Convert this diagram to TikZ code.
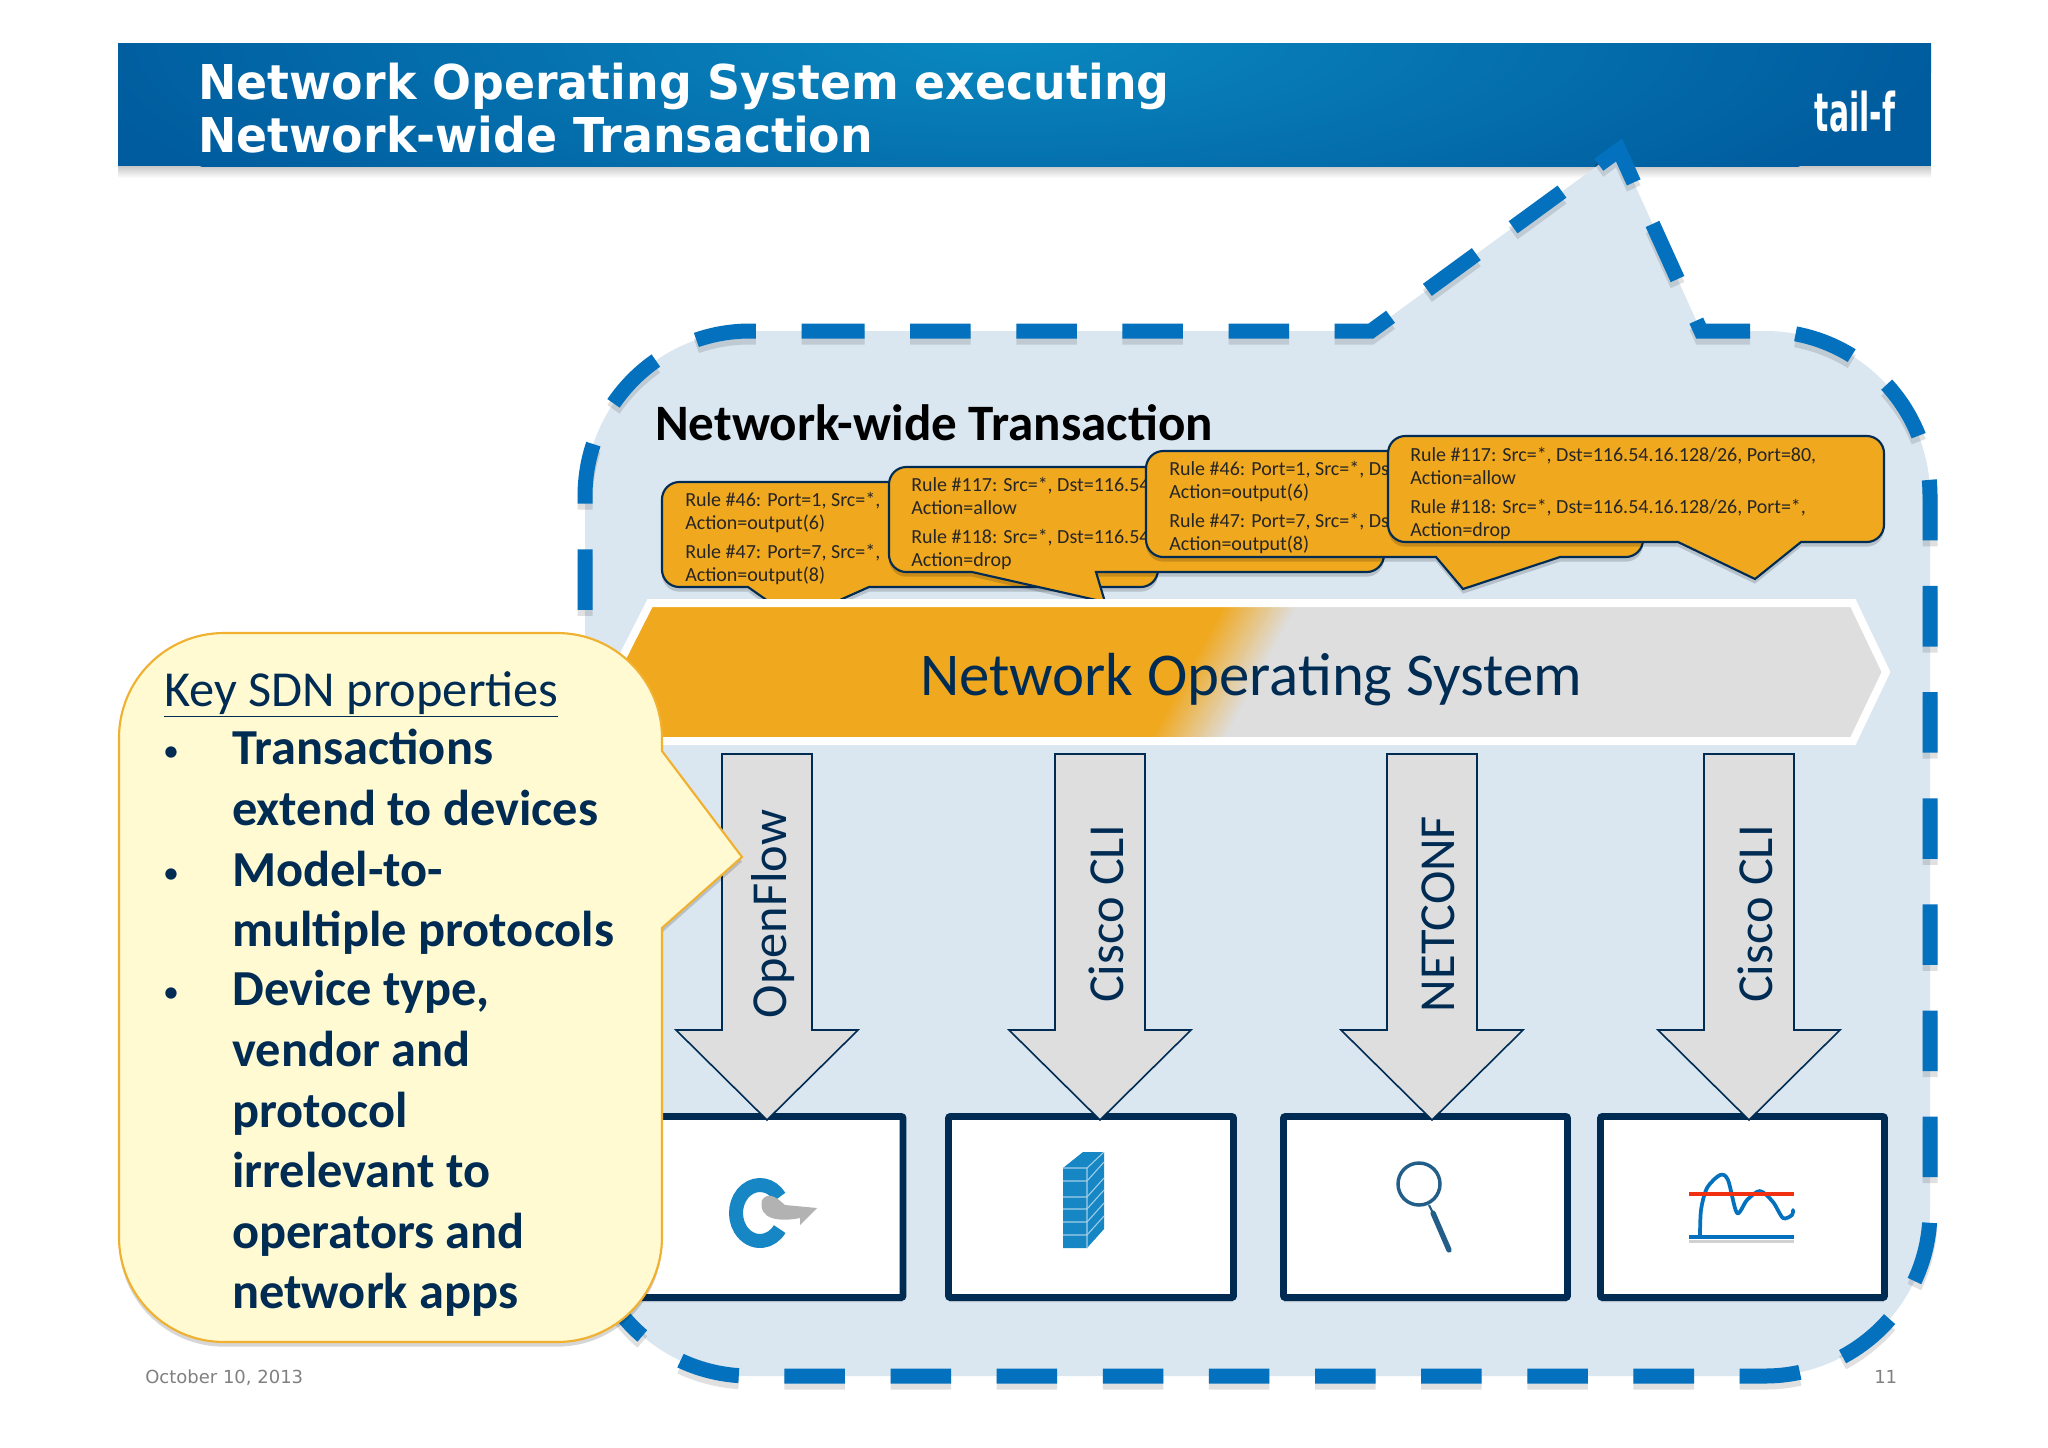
\documentclass[tikz,border=0pt]{standalone}
\usepackage{fontspec}
\setmainfont{Carlito}
\newfontfamily\titlefont{DejaVu Sans}
\definecolor{navy}{RGB}{0,44,84}
\definecolor{bannerdark}{RGB}{0,92,158}
\definecolor{bannerlight}{RGB}{10,136,192}
\definecolor{bubblefill}{RGB}{218,230,240}
\definecolor{bubbledash}{RGB}{4,113,190}
\definecolor{ruleorange}{RGB}{240,168,30}
\definecolor{bandgray}{RGB}{222,222,222}
\definecolor{keyfill}{RGB}{255,250,210}
\definecolor{keyedge}{RGB}{240,176,48}
\definecolor{iconblue}{RGB}{22,134,196}
\definecolor{glassblue}{RGB}{35,94,136}
\definecolor{chartred}{RGB}{240,48,16}
\tikzset{
  softshadow/.style={preaction={fill=black,fill opacity=0.16,draw=none,transform canvas={yshift=-3.5pt}}},
  rulebox/.style={draw=navy,line width=1.6pt,fill=ruleorange,softshadow},
  ruletext/.style={anchor=north west,inner sep=0pt,align=left,text=black!85,font=\fontsize{15}{17.6}\selectfont},
  protobox/.style={draw=navy,line width=5.2pt,fill=white,rounded corners=1.5pt,softshadow},
  protolabel/.style={rotate=90,text=navy,font=\fontsize{37.8}{42}\selectfont},
  keyline/.style={anchor=base west,inner sep=0pt,text=navy,font=\fontsize{37.8}{42}\selectfont\bfseries},
  titleline/.style={anchor=base west,inner sep=0pt,text=white,xscale=0.955,font=\titlefont\fontsize{36}{40}\selectfont\bfseries},
  footline/.style={anchor=base west,inner sep=0pt,text=black!50,font=\titlefont\fontsize{13.5}{16}\selectfont},
}
\begin{document}
\begin{tikzpicture}[x=0.75pt,y=0.75pt,yscale=-1,xscale=1]
        \useasboundingbox (0,0) rectangle (2048,1447);
        \fill[white] (0,0) rectangle (2048,1447);
        % Banner
        \shade[top color=black!22,bottom color=white] (118,166) rectangle (1931,178);
        \begin{scope}
        \clip (118,43) rectangle (1931,166);
        \fill[bannerdark] (118,43) rectangle (1931,166);
        \shade[inner color=bannerlight,outer color=bannerdark] (1000,40) ellipse (940 and 240);
        \end{scope}
        \node[titleline] (titlea) at (198,99) {Network Operating System executing};
        \node[titleline] (titleb) at (198,152) {Network-wide Transaction};
        \node[anchor=base,inner sep=0pt,text=white,xscale=0.56,font=\titlefont\fontsize{40}{44}\selectfont\bfseries] (logo) at (1855,131) {tail-f};
        %Shape: dashed bubble
        \fill[bubblefill] (804,331) -- (1371,331) -- (1619,150) -- (1701,331) -- (1765,331) .. controls (1856,331) and (1930,405) .. (1930,496) -- (1930,1211) .. controls (1930,1302) and (1856,1376) .. (1765,1376) -- (750,1376) .. controls (659,1376) and (585,1302) .. (585,1211) -- (585,496) .. controls (585,405) and (659,331) .. (750,331) -- cycle ;
        \draw[black,opacity=0.12,line width=11.25pt,dash pattern={on 45.4pt off 34.2pt},shift={(0,6)}] (804,331) -- (1371,331) -- (1619,150) -- (1701,331) -- (1765,331) .. controls (1856,331) and (1930,405) .. (1930,496) -- (1930,1211) .. controls (1930,1302) and (1856,1376) .. (1765,1376) -- (750,1376) .. controls (659,1376) and (585,1302) .. (585,1211) -- (585,496) .. controls (585,405) and (659,331) .. (750,331) -- cycle ;
        \draw[bubbledash,line width=11.25pt,dash pattern={on 45.4pt off 34.2pt}] (804,331) -- (1371,331) -- (1619,150) -- (1701,331) -- (1765,331) .. controls (1856,331) and (1930,405) .. (1930,496) -- (1930,1211) .. controls (1930,1302) and (1856,1376) .. (1765,1376) -- (750,1376) .. controls (659,1376) and (585,1302) .. (585,1211) -- (585,496) .. controls (585,405) and (659,331) .. (750,331) -- cycle ;
        % Text Node
        \node[anchor=base west,inner sep=0pt,text=black,font=\fontsize{38.3}{42}\selectfont\bfseries] (txnhead) at (655,440) {Network-wide Transaction};
        %Shape: rule callouts
        \draw[rulebox] [rounded corners=13pt] (662,482) -- (1158,482) -- (1158,587) [sharp corners] -- (869,587) -- (795,620) -- (748,587) [rounded corners=13pt] -- (662,587) -- cycle ;
        \node[ruletext] (rulea) at (685,492) {Rule \#46: Port=1, Src=*,\\Action=output(6)\\[3.5pt]Rule \#47: Port=7, Src=*,\\Action=output(8)};
        \draw[rulebox] [rounded corners=13pt] (889,467) -- (1384,467) -- (1384,572) [sharp corners] -- (1096,572) -- (1105,602) -- (972,572) [rounded corners=13pt] -- (889,572) -- cycle ;
        \node[ruletext] (ruleb) at (911,477) {Rule \#117: Src=*, Dst=116.54\\Action=allow\\[3.5pt]Rule \#118: Src=*, Dst=116.54\\Action=drop};
        \draw[rulebox] [rounded corners=13pt] (1146,451) -- (1643,451) -- (1643,557) [sharp corners] -- (1560,557) -- (1463,589) -- (1436,557) [rounded corners=13pt] -- (1146,557) -- cycle ;
        \node[ruletext] (rulec) at (1169,461) {Rule \#46: Port=1, Src=*, Ds\\Action=output(6)\\[3.5pt]Rule \#47: Port=7, Src=*, Ds\\Action=output(8)};
        \draw[rulebox] [rounded corners=13pt] (1388,436) -- (1884,436) -- (1884,542) [sharp corners] -- (1801,542) -- (1755,579) -- (1678,542) [rounded corners=13pt] -- (1388,542) -- cycle ;
        \node[ruletext] (ruled) at (1410,447) {Rule \#117: Src=*, Dst=116.54.16.128/26, Port=80,\\Action=allow\\[3.5pt]Rule \#118: Src=*, Dst=116.54.16.128/26, Port=*,\\Action=drop};
        %Shape: band
        \begin{scope}
        \clip (650,603) -- (1853,603) -- (1886,672) -- (1853,741) -- (650,741) -- (615,672) -- cycle ;
        \fill[ruleorange] (600,590) rectangle (1900,750);
        \foreach \i in {0,...,25} {
          \pgfmathtruncatemacro{\mixval}{100-4*\i}
          \fill[ruleorange!\mixval!bandgray] ({1223+3*\i},603) -- (1900,603) -- (1900,741) -- ({1148+3*\i},741) -- cycle ;
        }
        \end{scope}
        \draw[white,line width=6pt,line join=miter] (650,603) -- (1853,603) -- (1886,672) -- (1853,741) -- (650,741) -- (615,672) -- cycle ;
        \node[text=navy,inner sep=0pt,anchor=base,font=\fontsize{45.6}{50}\selectfont] (nos) at (1251,695) {Network Operating System};
        %Shape: device boxes
        \foreach \xa/\xb in {614/903,948.5/1233.5,1283.5/1567.5,1600.5/1884.5} {
          \draw[protobox] (\xa,1116.5) rectangle (\xb,1297.5);
        }
        %Shape: block arrows and labels
        \foreach \n/\cx/\lab in {a/767/OpenFlow,b/1100/Cisco CLI,c/1432/NETCONF,d/1749/Cisco CLI} {
          \draw[navy,line width=1.2pt,fill=bandgray] ({\cx-45},754) -- ({\cx+45},754) -- ({\cx+45},1030) -- ({\cx+91},1030) -- (\cx,1120) -- ({\cx-91},1030) -- ({\cx-45},1030) -- cycle ;
          \node[protolabel] (proto\n) at ({\cx+6},914) {\lab};
        }
        %Shape: icon ring
        \draw[iconblue,line width=10.5pt] ({760+24*cos(35)},{1213-28*sin(35)}) arc[start angle=-35,end angle=-325,x radius=24,y radius=28] ;
        \fill[black!30] (762,1200) .. controls (768,1192) and (775,1196) .. (785,1205) -- (817,1208) -- (800,1225) -- (800,1218) .. controls (780,1222) and (758,1220) .. (762,1200) -- cycle ;
        %Shape: icon wall
        \fill[iconblue] (1063,1168) -- (1083,1152) -- (1104,1152) -- (1104,1229) -- (1087,1248) -- (1063,1248) -- cycle ;
        \foreach \y in {1181,1197,1209,1222,1235} {
          \draw[white!60!iconblue,line width=0.8pt] (1063,\y) -- (1087,\y) -- (1104,{\y-19}) ;
        }
        \draw[white!60!iconblue,line width=0.8pt] (1063,1168) -- (1087,1168) -- (1104,1152) (1087,1168) -- (1087,1248) ;
        %Shape: icon glass
        \draw[glassblue,line width=2.6pt] (1419,1184) circle (21) ;
        \draw[glassblue,line width=1.6pt] (1429,1205) -- (1433,1213) ;
        \draw[glassblue,line width=4pt,line cap=round] (1433,1213) -- (1449,1250) ;
        %Shape: icon chart
        \fill[black,opacity=0.18] (1689,1240) rectangle (1794,1243);
        \draw[bubbledash,line width=3.6pt] (1689,1237) -- (1794,1237) ;
        \draw[bubbledash,line width=2.8pt,line cap=round,line join=round] plot[smooth] coordinates {(1700,1237) (1701,1210) (1707,1188) (1720,1175) (1728,1180) (1737,1213) (1747,1200) (1760,1191) (1773,1202) (1783,1218) (1792,1215) (1793,1210)};
        \draw[chartred,line width=3.6pt] (1689,1194) -- (1794,1194) ;
        %Shape: key callout
        \draw[keyedge,line width=1.6pt,fill=keyfill,softshadow] (224,633) -- (557,633) .. controls (615,633) and (662,680) .. (662,738) -- (662,751) -- (742,857) -- (662,928) -- (662,1237) .. controls (662,1295) and (615,1342) .. (557,1342) -- (224,1342) .. controls (166,1342) and (119,1295) .. (119,1237) -- (119,738) .. controls (119,680) and (166,633) .. (224,633) -- cycle ;
        \node[anchor=base west,inner sep=0pt,text=navy,font=\fontsize{37.8}{42}\selectfont] (keyhead) at (164,706) {\underline{Key SDN properties}};
        \foreach \n/\y/\lab in {a/764/Transactions,b/825/extend to devices,c/886/Model-to-,d/946/multiple protocols,e/1005/{Device type,},f/1066/vendor and,g/1127/protocol,h/1187/irrelevant to,i/1248/operators and,j/1308/network apps} {
          \node[keyline] (key\n) at (232,\y) {\lab};
        }
        \foreach \n/\y in {a/764,b/886,c/1005} {
          \node[anchor=base,inner sep=0pt,text=navy,font=\fontsize{24}{28}\selectfont] (bullet\n) at (171,{\y-3}) {•};
        }
        % Footer
        \node[footline] (datefoot) at (145,1383) {October 10, 2013};
        \node[footline] (pagefoot) at (1874,1383) {11};
\end{tikzpicture}
\end{document}
